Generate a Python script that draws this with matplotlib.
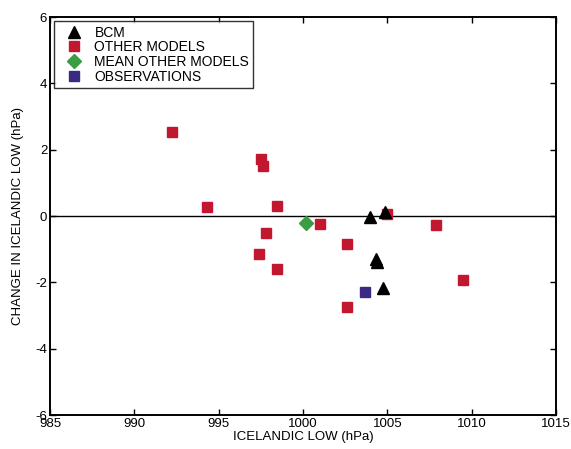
import matplotlib

matplotlib.use("Agg")
import matplotlib.pyplot as plt

plt.rcParams["font.family"] = ["Liberation Sans", "DejaVu Sans"]
plt.rcParams["axes.unicode_minus"] = False

# Icelandic low (hPa) and its change (hPa)
bcm_x = [1003.97, 1004.86, 1004.33, 1004.39, 1004.74]
bcm_y = [-0.03, 0.12, -1.30, -1.39, -2.17]

other_x = [992.23, 997.51, 997.63, 994.31, 998.46, 1001.01, 997.81,
           997.39, 998.46, 1002.61, 1002.61, 1004.98, 1007.88, 1009.49]
other_y = [2.53, 1.72, 1.51, 0.27, 0.30, -0.24, -0.51,
           -1.15, -1.60, -0.84, -2.74, 0.06, -0.27, -1.93]

mean_x = [1000.18]
mean_y = [-0.21]

obs_x = [1003.68]
obs_y = [-2.29]

x_ticks = [985, 990, 995, 1000, 1005, 1010, 1015]
y_ticks = [-6, -4, -2, 0, 2, 4, 6]

RED = "#c2182f"
GREEN = "#3a9d43"
BLUE = "#3b2a84"

fig = plt.figure(figsize=(5.71, 4.49), dpi=100)
ax = fig.add_axes([0.0876, 0.0757, 0.886, 0.886])

ax.axhline(0, color="black", linewidth=1.0, zorder=1)

ax.plot(other_x, other_y, "s", color=RED, markersize=6.5, linestyle="none",
        label="OTHER MODELS", zorder=3)
ax.plot(mean_x, mean_y, "D", color=GREEN, markersize=7, linestyle="none",
        label="MEAN OTHER MODELS", zorder=3)
ax.plot(obs_x, obs_y, "s", color=BLUE, markersize=6.5, linestyle="none",
        label="OBSERVATIONS", zorder=3)
ax.plot(bcm_x, bcm_y, "^", color="black", markersize=9, linestyle="none",
        label="BCM", zorder=4)

ax.set_xlim(985, 1015)
ax.set_ylim(-6, 6)
ax.set_xticks(x_ticks)
ax.set_yticks(y_ticks)
ax.tick_params(direction="in", top=True, right=True, labelsize=9.5,
               length=4, width=1, pad=2)
for s in ax.spines.values():
    s.set_linewidth(1.4)

ax.set_xlabel("ICELANDIC LOW (hPa)", fontsize=9.5, labelpad=1)
ax.set_ylabel("CHANGE IN ICELANDIC LOW (hPa)", fontsize=9.5, labelpad=8)

h, l = ax.get_legend_handles_labels()
order = [3, 0, 1, 2]
leg = ax.legend([h[i] for i in order], [l[i] for i in order], loc="upper left",
                fontsize=10, frameon=True, fancybox=False, borderpad=0.3,
                labelspacing=0.05, handletextpad=0.4, borderaxespad=0.3,
                handlelength=2.2)
leg.get_frame().set_edgecolor("black")
leg.get_frame().set_linewidth(1.0)

fig.savefig("out.png", dpi=100)
